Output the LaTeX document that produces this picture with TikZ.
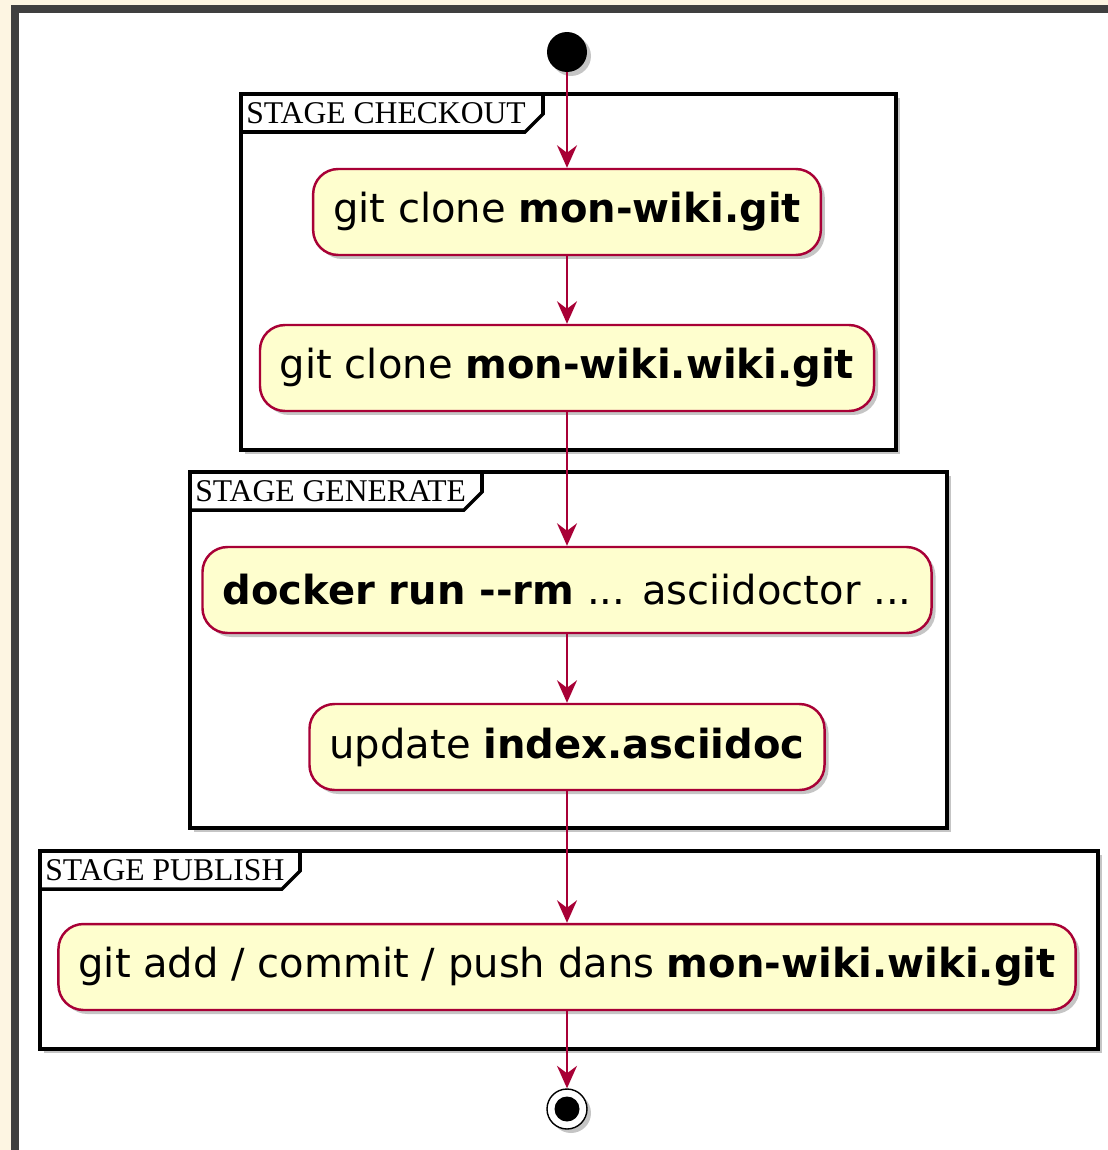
\documentclass[tikz,border=0pt]{standalone}
\usepackage{fontspec}
\setmainfont{DejaVu Sans}
\newfontfamily\stagefont{Liberation Serif}
\usetikzlibrary{arrows.meta,shadows}
\definecolor{umlred}{HTML}{A80036}
\definecolor{umlfill}{HTML}{FEFECE}
\definecolor{pagebg}{HTML}{FDF5E2}
\definecolor{pageedge}{HTML}{3F3F3F}
\begin{document}
\begin{tikzpicture}[x=0.02cm,y=-0.02cm,
  action/.style={draw=umlred,fill=umlfill,line width=1.4pt,rounded corners=0.5cm,
    minimum height=1.72cm,inner xsep=0.4cm,font=\fontsize{22.8}{27}\selectfont,
    drop shadow={shadow xshift=0.08cm,shadow yshift=-0.08cm,opacity=0.45}},
  stage/.style={draw=black,fill=white,line width=2pt,
    drop shadow={shadow xshift=0.08cm,shadow yshift=-0.08cm,opacity=0.45}},
  stagetab/.style={draw=black,line width=2pt},
  stagelabel/.style={anchor=west,inner sep=0pt,font=\stagefont\fontsize{18}{20}\selectfont},
  flow/.style={draw=umlred,line width=1.1pt,-{Stealth[length=0.45cm,width=0.4cm,inset=0.15cm]}},
]

% page
\useasboundingbox (0,0) rectangle (1108,1150);
\fill[pagebg] (0,0) rectangle (1108,1150);
\fill[pageedge] (11,5) rectangle (1108,1150);
\fill[white] (19,13) rectangle (1108,1150);

% stages
\draw[stage] (241,94) rectangle (896,450);
\draw[stagetab] (241,132) -- (525,132) -- (543,114) -- (543,94);
\node[stagelabel] (checkout) at (246,113) {STAGE CHECKOUT};

\draw[stage] (190,472) rectangle (947,828);
\draw[stagetab] (190,510) -- (464,510) -- (482,492) -- (482,472);
\node[stagelabel] (generate) at (195,491) {STAGE GENERATE};

\draw[stage] (40,851) rectangle (1098,1049);
\draw[stagetab] (40,889) -- (282,889) -- (300,871) -- (300,851);
\node[stagelabel] (publish) at (45,870) {STAGE PUBLISH};

% activities
\node[circle,fill=black,minimum size=0.8cm,inner sep=0pt,
  drop shadow={shadow xshift=0.08cm,shadow yshift=-0.08cm,opacity=0.45}] (start) at (567,52) {};

\node[action] (clone) at (567,212) {git clone \textbf{mon-wiki.git}};
\node[action] (clonewiki) at (567,368) {git clone \textbf{mon-wiki.wiki.git}};
\node[action] (docker) at (567,590) {\textbf{docker run -{}-rm} ... asciidoctor ...};
\node[action] (update) at (567,747) {update \textbf{index.asciidoc}};
\node[action] (push) at (567,967) {git add / commit / push dans \textbf{mon-wiki.wiki.git}};

\node[circle,draw=black,fill=white,line width=0.8pt,minimum size=0.8cm,inner sep=0pt,
  drop shadow={shadow xshift=0.08cm,shadow yshift=-0.08cm,opacity=0.45}] (stop) at (567,1109) {};
\fill[black] (stop.center) circle (0.25cm);

% flow
\draw[flow] (start) -- (clone);
\draw[flow] (clone) -- (clonewiki);
\draw[flow] (clonewiki) -- (docker);
\draw[flow] (docker) -- (update);
\draw[flow] (update) -- (push);
\draw[flow] (push) -- (stop);

\end{tikzpicture}
\end{document}
